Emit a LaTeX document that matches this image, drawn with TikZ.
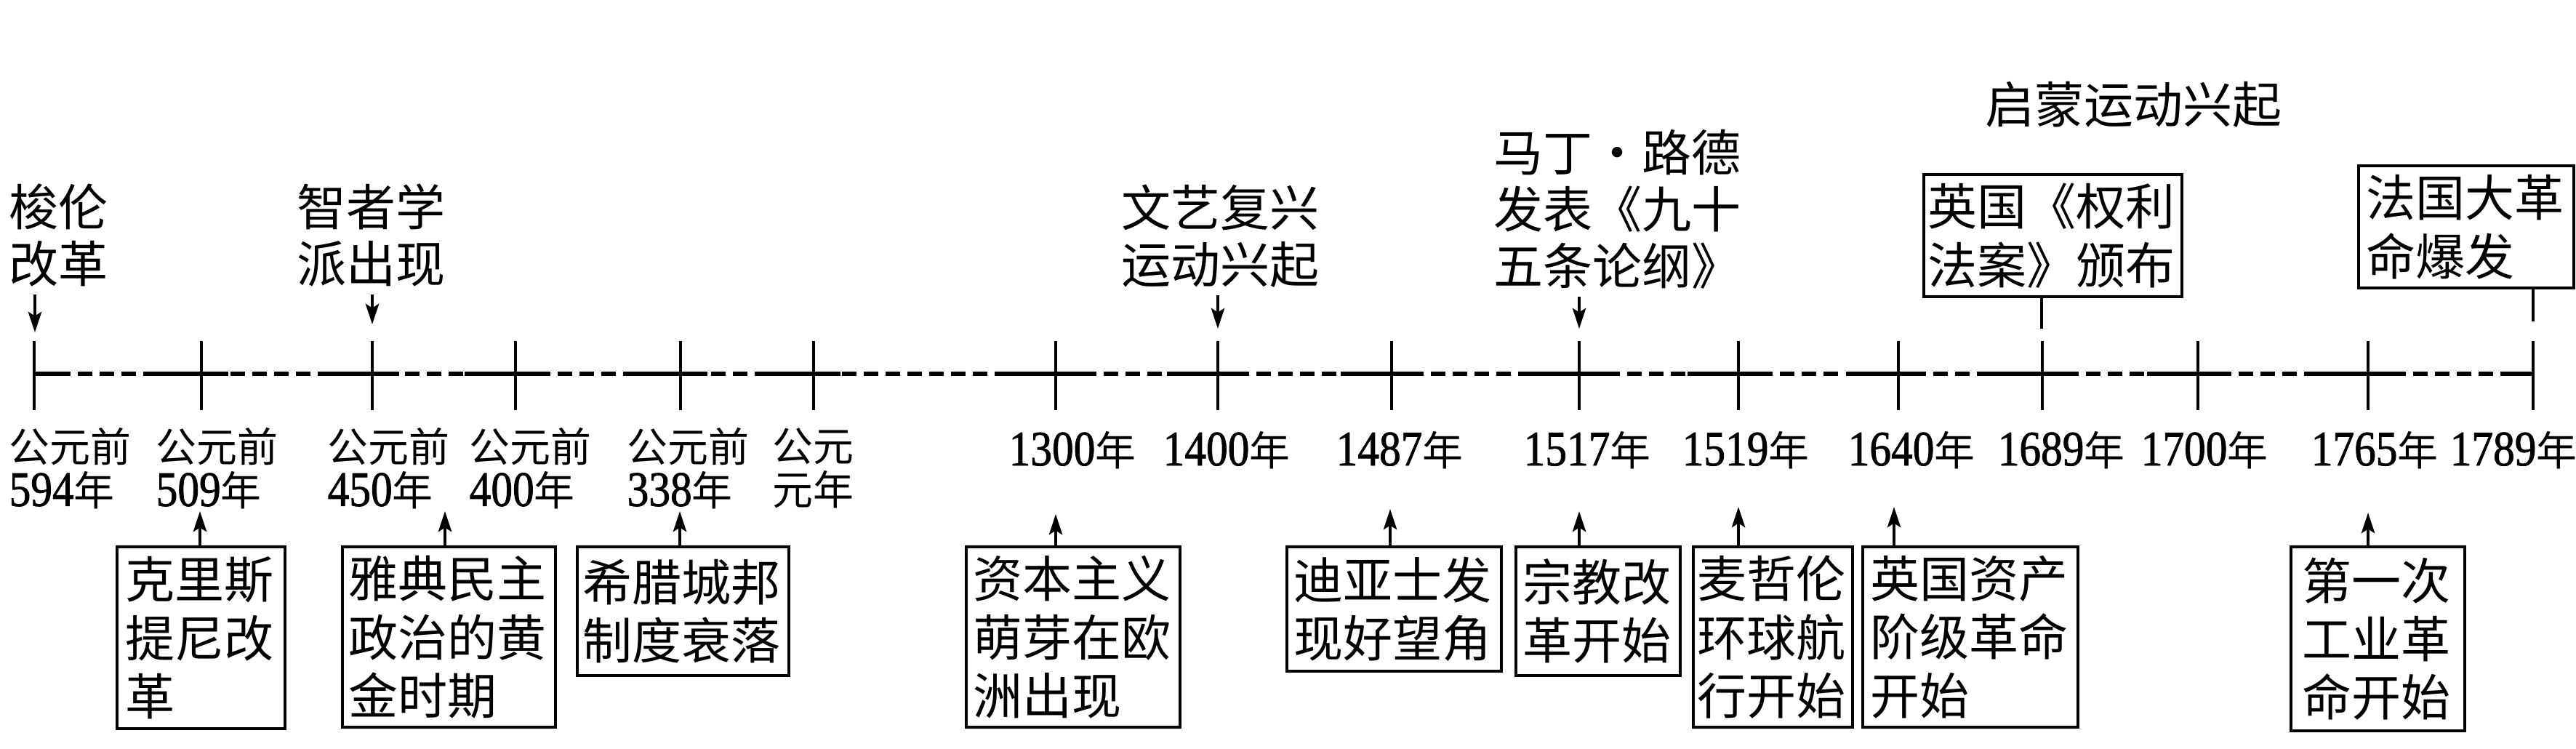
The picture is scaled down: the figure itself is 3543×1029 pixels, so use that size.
\documentclass[tikz,border=0pt]{standalone}
\usepackage{fontspec}
\setmainfont{Noto Sans CJK SC}
\newfontfamily\numf[FakeStretch=0.87,FakeBold=1.2]{Liberation Serif}
\usetikzlibrary{arrows.meta}
\newcommand\yr[1]{{\numf\fontsize{19.4pt}{17pt}\selectfont #1}年}
\tikzset{
  ev/.style={font=\fontsize{19.35pt}{22.2pt}\selectfont, inner sep=0pt, anchor=north west, align=left},
  bx/.style={draw, line width=1.2pt, inner sep=0pt, anchor=north west, align=left, font=\fontsize{19.35pt}{22.8pt}\selectfont},
  dt/.style={font=\fontsize{15.9pt}{17pt}\selectfont, inner sep=0pt, align=left, anchor=north west},
  dts/.style={font=\fontsize{15.9pt}{17pt}\selectfont, inner sep=0pt, anchor=base},
  arr/.style={line width=1.1pt, -{Stealth[length=8pt,width=5.2pt,inset=1.6pt]}},
  tk/.style={line width=1.1pt},
  ax/.style={line width=1.6pt}
}
\begin{document}
\begin{tikzpicture}[x=0.01cm,y=-0.01cm]
\useasboundingbox (0,0) rectangle (3543,1029);
% axis
\draw[ax, dash pattern=on 0.2cm off 0.1cm] (47,514) -- (3484,514);
\draw[ax] (47,514) -- (80,514);
\draw[ax] (3440,514) -- (3484,514);
\foreach \x in {277,512,709,936,1119,1452,1675,1914,2172,2391,2611,2809,3023,3257}
  \draw[ax] (\x-70,514) -- (\x+37,514);
\foreach \x in {47,277,512,709,936,1119,1452,1675,1914,2172,2391,2611,2809,3023,3257,3484}
  \draw[tk] (\x,469) -- (\x,564);
% date labels
\node[dt] (d594) at (12,588) {公元前\\\yr{594}};
\node[dt] (d509) at (214,588) {公元前\\\yr{509}};
\node[dt] (d450) at (450,588) {公元前\\\yr{450}};
\node[dt] (d400) at (645,588) {公元前\\\yr{400}};
\node[dt] (d338) at (862,588) {公元前\\\yr{338}};
\node[dt] (d1) at (1062,588) {公元\\元年};
\node[dts] (d1300) at (1475,640) {\yr{1300}};
\node[dts] (d1400) at (1687,640) {\yr{1400}};
\node[dts] (d1487) at (1925,640) {\yr{1487}};
\node[dts] (d1517) at (2183,640) {\yr{1517}};
\node[dts] (d1519) at (2401,640) {\yr{1519}};
\node[dts] (d1640) at (2629,640) {\yr{1640}};
\node[dts] (d1689) at (2835,640) {\yr{1689}};
\node[dts] (d1700) at (3032,640) {\yr{1700}};
\node[dts] (d1765) at (3266,640) {\yr{1765}};
\node[dts] (d1789) at (3457,640) {\yr{1789}};
% top events
\node[ev] (solon) at (12,252) {梭伦\\改革};
\node[ev] (soph) at (408,252) {智者学\\派出现};
\node[ev] (ren) at (1542,253) {文艺复兴\\运动兴起};
\node[ev] (luth) at (2054,177) {马丁·路德\\发表《九十\\五条论纲》};
\node[ev] (enl) at (2730,112) {启蒙运动兴起};
\coordinate (a594) at (48,457);
\coordinate (a450t) at (512,446);
\coordinate (a1400) at (1675,452);
\coordinate (a1517t) at (2172,452);
\draw[arr, shorten <=0.1cm] (solon.south -| a594) -- (a594);
\draw[arr, shorten <=0.1cm] (soph.south -| a450t) -- (a450t);
\draw[arr, shorten <=0.1cm] (ren.south -| a1400) -- (a1400);
\draw[arr, shorten <=0.1cm] (luth.south -| a1517t) -- (a1517t);
% top boxes
\node[bx, minimum width=3.55cm, minimum height=1.68cm, text width=3.44cm] (b1689) at (2644,238) {英国《权利\\法案》颁布};
\node[bx, minimum width=2.96cm, minimum height=1.68cm, text width=2.76cm] (b1789) at (3242,226) {法国大革\\命爆发};
\coordinate (c1689) at (2808,452);
\coordinate (c1789) at (3484,442);
\draw[tk] (b1689.south -| c1689) -- (c1689);
\draw[tk] (b1789.south -| c1789) -- (c1789);
% bottom boxes
\node[bx, minimum width=2.31cm, minimum height=2.50cm, text width=2.08cm] (b509) at (159,750) {克里斯\\提尼改\\革};
\node[bx, minimum width=2.93cm, minimum height=2.48cm, text width=2.76cm] (b450) at (469,750) {雅典民主\\政治的黄\\金时期};
\node[bx, minimum width=2.91cm, minimum height=1.77cm, text width=2.76cm] (b338) at (792,750) {希腊城邦\\制度衰落};
\node[bx, minimum width=2.94cm, minimum height=2.48cm, text width=2.76cm] (b1300) at (1327,750) {资本主义\\萌芽在欧\\洲出现};
\node[bx, minimum width=2.95cm, minimum height=1.71cm, text width=2.76cm] (b1487) at (1768,750) {迪亚士发\\现好望角};
\node[bx, minimum width=2.26cm, minimum height=1.77cm, text width=2.08cm] (b1517) at (2083,750) {宗教改\\革开始};
\node[bx, minimum width=2.19cm, minimum height=2.48cm, text width=2.08cm] (b1519) at (2327,750) {麦哲伦\\环球航\\行开始};
\node[bx, minimum width=2.96cm, minimum height=2.48cm, text width=2.76cm] (b1640) at (2560,750) {英国资产\\阶级革命\\开始};
\node[bx, minimum width=2.39cm, minimum height=2.53cm, text width=2.08cm] (b1765) at (3149,750) {第一次\\工业革\\命开始};
\coordinate (a509) at (275,703);
\coordinate (a450) at (612,703);
\coordinate (a338) at (935,703);
\coordinate (a1300) at (1452,707);
\coordinate (a1487) at (1912,700);
\coordinate (a1517) at (2172,703);
\coordinate (a1519) at (2391,697);
\coordinate (a1640) at (2605,697);
\coordinate (a1765) at (3257,705);
\foreach \b/\a in {b509/a509,b450/a450,b338/a338,b1300/a1300,b1487/a1487,b1517/a1517,b1519/a1519,b1640/a1640,b1765/a1765}
  \draw[arr] (\b.north -| \a) -- (\a);
\end{tikzpicture}
\end{document}
